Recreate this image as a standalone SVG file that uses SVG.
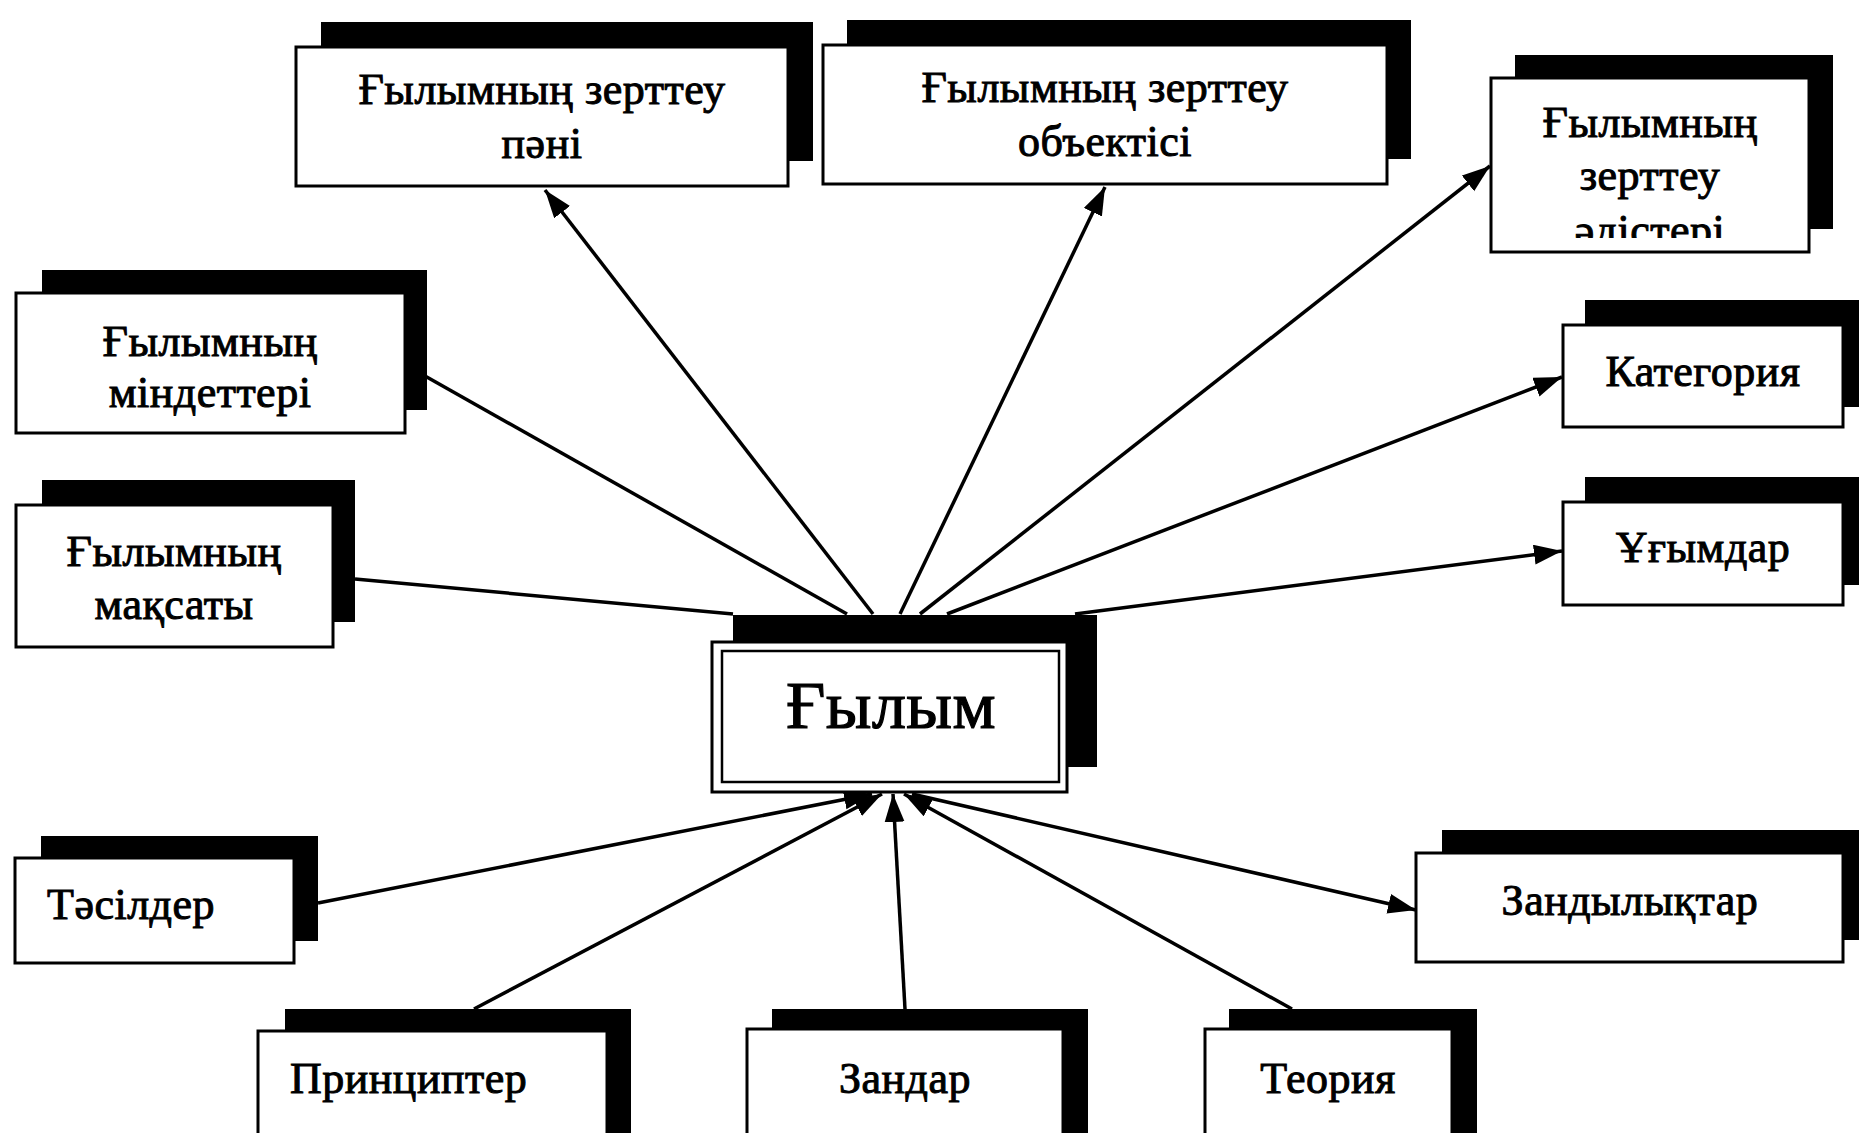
<svg xmlns="http://www.w3.org/2000/svg" width="1859" height="1133" viewBox="0 0 1859 1133">
<style>
.sh{fill:#000}
.bx{fill:#fff;stroke:#000;stroke-width:3}
.t{font-family:"Liberation Serif","DejaVu Serif",serif;font-size:44px;fill:#000;stroke:#000;stroke-width:1;text-anchor:middle;letter-spacing:0.5px}
.tl{text-anchor:start}
.big{font-size:68px;stroke-width:1.2}
.ln{stroke:#000;stroke-width:3.5;fill:none}
.ar{marker-end:url(#ah)}
</style>
<defs>
<marker id="ah" markerUnits="userSpaceOnUse" markerWidth="30" markerHeight="22" refX="28" refY="10" orient="auto">
<path d="M0,0 L28,10 L0,20 Z" fill="#000"/>
</marker>
<clipPath id="clipC"><rect x="1490" y="78" width="320" height="160"/></clipPath>
</defs>
<rect width="1859" height="1133" fill="#fff"/>

<g id="connectors">
<line class="ln ar" x1="873" y1="614" x2="545" y2="190"/>
<line class="ln ar" x1="900" y1="614" x2="1105" y2="187"/>
<line class="ln ar" x1="920" y1="614" x2="1490" y2="166"/>
<line class="ln" x1="425" y1="376" x2="847" y2="614"/>
<line class="ln" x1="355" y1="579" x2="733" y2="614"/>
<line class="ln ar" x1="947" y1="614" x2="1562" y2="377"/>
<line class="ln ar" x1="1075" y1="614" x2="1562" y2="551"/>
<line class="ln ar" x1="318" y1="903" x2="872" y2="794"/>
<line class="ln ar" x1="474" y1="1009" x2="882" y2="794"/>
<line class="ln ar" x1="905" y1="1009" x2="893" y2="794"/>
<line class="ln ar" x1="1292" y1="1009" x2="904" y2="794"/>
<line class="ln ar" x1="912" y1="794" x2="1416" y2="910"/>
</g>

<g id="node-pani">
<rect class="sh" x="321" y="22" width="492" height="139"/>
<rect class="bx" x="296" y="47" width="492" height="139"/>
<text class="t" x="542" y="104">Ғылымның зерттеу</text>
<text class="t" x="542" y="158">пәні</text>
</g>

<g id="node-obekt">
<rect class="sh" x="847" y="20" width="564" height="139"/>
<rect class="bx" x="823" y="45" width="564" height="139"/>
<text class="t" x="1105" y="102">Ғылымның зерттеу</text>
<text class="t" x="1105" y="156">объектісі</text>
</g>

<g id="node-adis">
<rect class="sh" x="1515" y="55" width="318" height="174"/>
<rect class="bx" x="1491" y="78" width="318" height="174"/>
<g clip-path="url(#clipC)">
<text class="t" x="1650" y="137">Ғылымның</text>
<text class="t" x="1650" y="190">зерттеу</text>
<text class="t" x="1650" y="245">әдістері</text>
</g>
</g>

<g id="node-mindet">
<rect class="sh" x="42" y="270" width="385" height="140"/>
<rect class="bx" x="16" y="293" width="389" height="140"/>
<text class="t" x="210" y="356">Ғылымның</text>
<text class="t" x="210" y="407">міндеттері</text>
</g>

<g id="node-maksat">
<rect class="sh" x="42" y="480" width="313" height="142"/>
<rect class="bx" x="16" y="505" width="317" height="142"/>
<text class="t" x="174" y="566">Ғылымның</text>
<text class="t" x="174" y="619">мақсаты</text>
</g>

<g id="node-kategoriya">
<rect class="sh" x="1585" y="300" width="290" height="107"/>
<rect class="bx" x="1563" y="325" width="280" height="102"/>
<text class="t" x="1703" y="386">Категория</text>
</g>

<g id="node-ugymdar">
<rect class="sh" x="1585" y="477" width="290" height="108"/>
<rect class="bx" x="1563" y="502" width="280" height="103"/>
<text class="t" x="1703" y="562">Ұғымдар</text>
</g>

<g id="node-gylym">
<rect class="sh" x="733" y="615" width="364" height="152"/>
<rect class="bx" x="712" y="642" width="355" height="150"/>
<rect fill="none" stroke="#000" stroke-width="2.5" x="722" y="651" width="337" height="131"/>
<text class="t big" x="891" y="728">Ғылым</text>
</g>

<g id="node-tasilder">
<rect class="sh" x="41" y="836" width="277" height="105"/>
<rect class="bx" x="15" y="858" width="279" height="105"/>
<text class="t tl" x="47" y="919">Тәсілдер</text>
</g>

<g id="node-principter">
<rect class="sh" x="285" y="1009" width="346" height="140"/>
<rect class="bx" x="258" y="1031" width="349" height="120"/>
<text class="t tl" x="290" y="1093">Принциптер</text>
</g>

<g id="node-zandar">
<rect class="sh" x="772" y="1009" width="316" height="140"/>
<rect class="bx" x="747" y="1029" width="316" height="120"/>
<text class="t" x="905" y="1093">Зандар</text>
</g>

<g id="node-teoriya">
<rect class="sh" x="1229" y="1009" width="248" height="140"/>
<rect class="bx" x="1205" y="1029" width="247" height="120"/>
<text class="t" x="1328" y="1093">Теория</text>
</g>

<g id="node-zandylyktar">
<rect class="sh" x="1442" y="830" width="430" height="110"/>
<rect class="bx" x="1416" y="853" width="427" height="109"/>
<text class="t" x="1630" y="915">Зандылықтар</text>
</g>
</svg>
